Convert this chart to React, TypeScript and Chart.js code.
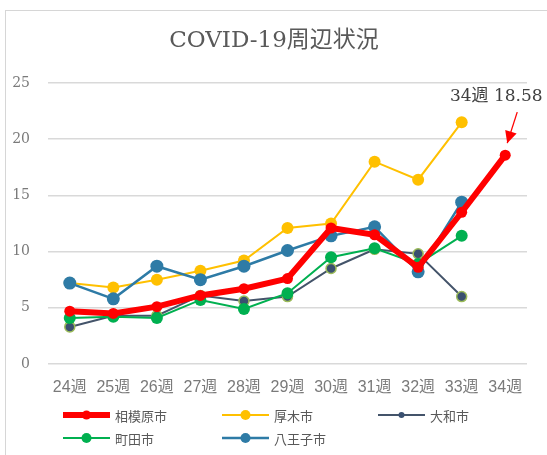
import React, { useEffect, useRef } from "react";
import { Chart, registerables } from "chart.js";

Chart.register(...registerables);

const weeks = ["24週", "25週", "26週", "27週", "28週", "29週", "30週", "31週", "32週", "33週", "34週"];
const sagamihara = [4.7, 4.5, 5.1, 6.1, 6.7, 7.6, 12.1, 11.5, 8.6, 13.5, 18.58];
const atsugi = [7.2, 6.8, 7.5, 8.3, 9.2, 12.1, 12.5, 18.0, 16.4, 21.5, null];
const yamato = [3.3, 4.3, 4.3, 6.1, 5.6, 6.0, 8.5, 10.2, 9.8, 6.0, null];
const machida = [4.1, 4.2, 4.1, 5.7, 4.9, 6.3, 9.5, 10.3, 8.9, 11.4, null];
const hachioji = [7.2, 5.8, 8.7, 7.5, 8.7, 10.1, 11.4, 12.2, 8.2, 14.4, null];
const seriesNames = ["相模原市", "厚木市", "大和市", "町田市", "八王子市"];
const yTicks = [0, 5, 10, 15, 20, 25];
const titleText = "COVID-19周辺状況";

const SERIF = '"DejaVu Serif", "Noto Sans CJK JP", serif';
const XFONT = '"Liberation Sans", "Noto Sans CJK JP", sans-serif';
const SANS = '"Noto Sans CJK JP", sans-serif';

const legendCols = [63, 222, 378];
const legendRows = [415, 438];

const overlayPlugin = {
  id: "overlay",
  afterDraw(chart: any) {
    const ctx = chart.ctx as CanvasRenderingContext2D;
    ctx.save();
    // title
    ctx.fillStyle = "#595959";
    ctx.font = "23px " + SERIF;
    ctx.textAlign = "center";
    ctx.textBaseline = "middle";
    ctx.fillText(titleText, 274, 41);

    // annotation on last point of first dataset
    const meta = chart.getDatasetMeta(0);
    const idx = sagamihara.length - 1;
    const pt = meta.data[idx];
    if (pt) {
      const px = pt.x, py = pt.y;
      ctx.font = "17px " + SERIF;
      ctx.fillStyle = "#404040";
      ctx.fillText(weeks[idx] + " " + sagamihara[idx].toFixed(2), px - 9, py - 59);
      const x1 = px + 12, y1 = py - 43, x2 = px + 2, y2 = py - 12;
      ctx.strokeStyle = "#FF0000";
      ctx.fillStyle = "#FF0000";
      ctx.lineWidth = 1.3;
      ctx.beginPath();
      ctx.moveTo(x1, y1);
      ctx.lineTo(x2, y2);
      ctx.stroke();
      const ang = Math.atan2(y2 - y1, x2 - x1);
      const L = 12, W = 6;
      ctx.beginPath();
      ctx.moveTo(x2, y2);
      ctx.lineTo(x2 - L * Math.cos(ang) + W * Math.sin(ang), y2 - L * Math.sin(ang) - W * Math.cos(ang));
      ctx.lineTo(x2 - L * Math.cos(ang) - W * Math.sin(ang), y2 - L * Math.sin(ang) + W * Math.cos(ang));
      ctx.closePath();
      ctx.fill();
    }

    // legend
    chart.data.datasets.forEach((ds: any, i: number) => {
      const col = legendCols[i % 3];
      const row = legendRows[Math.floor(i / 3)];
      ctx.strokeStyle = ds.borderColor;
      ctx.lineWidth = ds.borderWidth;
      ctx.beginPath();
      ctx.moveTo(col, row);
      ctx.lineTo(col + 47, row);
      ctx.stroke();
      ctx.beginPath();
      ctx.arc(col + 23.5, row, ds.legendDot, 0, Math.PI * 2);
      ctx.fillStyle = ds.pointBackgroundColor;
      ctx.fill();
      ctx.font = "13px " + SANS;
      ctx.fillStyle = "#595959";
      ctx.textAlign = "left";
      ctx.fillText(ds.label, col + 52, row + 1);
    });
    ctx.restore();
  },
};

export default function App() {
  const ref = useRef<HTMLCanvasElement>(null);
  useEffect(() => {
    if (!ref.current) return;
    const mk = (i: number, data: (number | null)[], color: string, bw: number, r: number, order: number, extra: any = {}) => ({
      label: seriesNames[i],
      data,
      borderColor: color,
      backgroundColor: color,
      pointBackgroundColor: color,
      pointBorderColor: color,
      borderWidth: bw,
      pointRadius: r,
      pointBorderWidth: 0,
      pointHoverRadius: r,
      tension: 0,
      order,
      legendDot: 4,
      ...extra,
    });
    const chart = new Chart(ref.current, {
      type: "line",
      data: {
        labels: weeks,
        datasets: [
          mk(0, sagamihara, "#FF0000", 6, 5.5, 0, { legendDot: 4.5 }),
          mk(1, atsugi, "#FFC000", 2, 6, 4, { legendDot: 5 }),
          mk(2, yamato, "#44546A", 2, 5, 3, { pointBackgroundColor: "#3A5070", pointBorderColor: "#9BBB59", pointBorderWidth: 1.5, legendDot: 3 }),
          mk(3, machida, "#00B050", 2, 6, 2, { legendDot: 5 }),
          mk(4, hachioji, "#2E7BA6", 2.5, 6.5, 1, { legendDot: 5 }),
        ] as any,
      },
      options: {
        animation: false,
        responsive: false,
        maintainAspectRatio: false,
        layout: { padding: { top: 83, left: 0, right: 20, bottom: 51 } },
        plugins: {
          legend: { display: false },
          title: { display: false },
          tooltip: { enabled: false },
        },
        scales: {
          x: {
            offset: true,
            grid: { display: false, drawTicks: false },
            border: { display: false },
            ticks: { color: "#7a7a7a", font: { size: 16, family: XFONT }, padding: 14, maxRotation: 0, autoSkip: false },
            afterFit: (s: any) => { s.height = 40; },
          },
          y: {
            min: 0,
            max: 25,
            afterBuildTicks: (s: any) => { s.ticks = yTicks.map((v) => ({ value: v })); },
            grid: { color: "#D9D9D9", lineWidth: 1.5, drawTicks: false },
            border: { display: false },
            ticks: { color: "#7a7a7a", font: { size: 14, family: SERIF }, padding: 18 },
            afterFit: (s: any) => { s.width = 48; },
          },
        },
      },
      plugins: [overlayPlugin],
    });
    return () => chart.destroy();
  }, []);
  return (
    <div style={{ position: "absolute", left: 0, top: 0, width: 547, height: 455, background: "#fff", overflow: "hidden" }}>
      <div style={{ position: "absolute", left: 5, top: 10, width: 600, height: 500, borderLeft: "1.5px solid #D6D6D6", borderTop: "1.5px solid #D6D6D6" }} />
      <canvas ref={ref} width={547} height={455} style={{ position: "absolute", left: 0, top: 0, width: 547, height: 455 }} />
    </div>
  );
}
